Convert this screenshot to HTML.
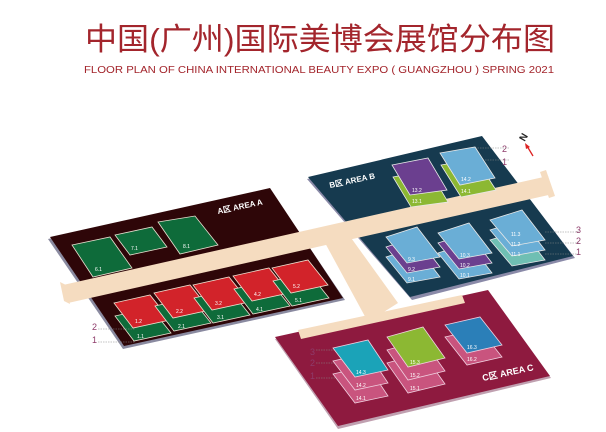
<!DOCTYPE html>
<html><head><meta charset="utf-8"><style>
body{margin:0;background:#fff;width:606px;height:432px;overflow:hidden}
svg{display:block}
.t{font-family:"Liberation Sans",sans-serif;fill:#fff;font-size:5px}
</style></head><body>
<svg width="606" height="432" viewBox="0 0 606 432" xmlns="http://www.w3.org/2000/svg">
<defs>
<g id="ra">
<polygon points="1,13 37,5 57,30 20,38" fill="#0e6b3a" stroke="#e8e0d0" stroke-width="0.8"/>
<polygon points="0,0 36,-8 56,17 19,25" fill="#d2232a" stroke="#f0e0d0" stroke-width="0.8"/>
</g>
<g id="bb" stroke="#e8e8e8" stroke-width="0.8">
<polygon points="0,20 31,10 54,40 21,46" fill="#6aaed6"/>
<polygon points="0,10 31,0 54,30 21,36" fill="#6b3f8f"/>
<polygon points="0,0 31,-10 54,20 21,26" fill="#6aaed6"/>
</g>
</defs>
<text x="85" y="50" font-family="'Liberation Sans','Noto Sans CJK SC',sans-serif" font-size="31" fill="#a3252c" textLength="470" lengthAdjust="spacingAndGlyphs">中国(广州)国际美博会展馆分布图</text>
<text x="84" y="73" font-family="'Liberation Sans',sans-serif" font-size="10" fill="#a3252c" textLength="470" lengthAdjust="spacingAndGlyphs">FLOOR PLAN OF CHINA INTERNATIONAL BEAUTY EXPO ( GUANGZHOU ) SPRING 2021</text>

<!-- Area A -->
<polygon points="48,239 270,189 345,300 123,349" fill="#8a8aa0"/>
<polygon points="50,237 270,188 343,298 124,346" fill="#2e0608"/>
<!-- Area B -->
<polygon points="307,179 482,138 575,258 412,300" fill="#8a8aa8"/>
<polygon points="308,177 482,136 573,256 410,297" fill="#163a4f"/>
<!-- Area C -->
<polygon points="275,339 488,292 551,378 338,429" fill="#c0a0b0"/>
<polygon points="275,337 488,290 550,376 338,426" fill="#8e1a3f"/>
<!-- corridors -->
<polygon points="63,285 548,176 553,194 68,303" fill="#f5dcc0"/>
<polygon points="60,282 66,285 70,304 64,301" fill="#f5dcc0"/>
<polygon points="540,172 546,170 555,196 549,198" fill="#f5dcc0"/>
<polygon points="324,241 349,235 398,303 368,322" fill="#f5dcc0"/>
<polygon points="298,330 462,295 465,303 301,339" fill="#f5dcc0"/>

<!-- A top row -->
<g fill="#0e6b3a" stroke="#e8e0d0" stroke-width="0.8">
<polygon points="72,245 110,237 132,268 93,277"/>
<polygon points="115,235 152,227 167,247 130,255"/>
<polygon points="158,222 195,216 218,245 180,254"/>
</g>
<text class="t" x="95" y="271">6.1</text><text class="t" x="131" y="250">7.1</text><text class="t" x="183" y="248">8.1</text>

<use href="#ra" transform="translate(114,303)"/>
<use href="#ra" transform="translate(154,293)"/>
<use href="#ra" transform="translate(193,285)"/>
<use href="#ra" transform="translate(233,276)"/>
<use href="#ra" transform="translate(272,268)"/>
<text class="t" x="135" y="323">1.2</text><text class="t" x="137" y="338">1.1</text>
<text class="t" x="176" y="313">2.2</text><text class="t" x="178" y="328">2.1</text>
<text class="t" x="215" y="305">3.2</text><text class="t" x="217" y="319">3.1</text>
<text class="t" x="254" y="296">4.2</text><text class="t" x="256" y="311">4.1</text>
<text class="t" x="293" y="288">5.2</text><text class="t" x="295" y="302">5.1</text>
<text x="218" y="214" font-family="Liberation Sans" font-size="8" font-weight="bold" fill="#fff" transform="rotate(-12 218 214)">A区 AREA A</text>

<!-- floor markers -->
<g font-family="Liberation Sans" font-size="9" fill="#8e3b6a">
<text x="92" y="330">2</text><text x="92" y="343">1</text>
<text x="502" y="152">2</text><text x="502" y="165">1</text>
<text x="576" y="233">3</text><text x="576" y="244">2</text><text x="576" y="255">1</text>
<text x="310" y="355">3</text><text x="310" y="366">2</text><text x="310" y="379">1</text>
</g>
<g stroke="#888" stroke-width="0.6" stroke-dasharray="1.5,1" fill="none">
<line x1="98" y1="329" x2="135" y2="329"/><line x1="98" y1="342" x2="135" y2="342"/>
<line x1="475" y1="148" x2="510" y2="148"/><line x1="475" y1="160" x2="510" y2="160"/>
<line x1="545" y1="232" x2="580" y2="232"/><line x1="545" y1="243" x2="580" y2="243"/><line x1="545" y1="254" x2="580" y2="254"/>
<line x1="316" y1="350" x2="335" y2="350"/><line x1="316" y1="363" x2="335" y2="363"/><line x1="316" y1="378" x2="335" y2="378"/>
</g>
<text x="520" y="140" font-family="Liberation Sans" font-size="10" font-weight="bold" fill="#222" transform="rotate(-60 524 137)">N</text>
<line x1="533" y1="156" x2="527" y2="146" stroke="#d22" stroke-width="1.3"/>
<polygon points="525,143 530,147 526,149" fill="#d22"/>

<!-- B area -->
<text x="330" y="188" font-family="Liberation Sans" font-size="8" font-weight="bold" fill="#fff" transform="rotate(-12 330 188)">B区 AREA B</text>
<g stroke="#e8e8e8" stroke-width="0.8">
<polygon points="393,177 429,170 448,202 411,207" fill="#8cb833"/>
<polygon points="392,165 428,158 447,190 410,195" fill="#6b3f8f"/>
<polygon points="441,165 476,159 496,190 461,197" fill="#8cb833"/>
<polygon points="440,153 475,147 495,178 460,185" fill="#6aaed6"/>
</g>
<text class="t" x="412" y="203">13.1</text><text class="t" x="412" y="192">13.2</text>
<text class="t" x="461" y="193">14.1</text><text class="t" x="461" y="181">14.2</text>
<use href="#bb" transform="translate(386,237)"/>
<use href="#bb" transform="translate(438,233)"/>
<g stroke="#e8e8e8" stroke-width="0.8">
<polygon points="490,240 522,230 545,260 512,266" fill="#6fbfb3"/>
<polygon points="490,230 522,220 545,250 512,256" fill="#6aaed6"/>
<polygon points="490,220 522,210 545,240 512,246" fill="#6aaed6"/>
</g>
<text class="t" x="408" y="261">9.3</text><text class="t" x="408" y="271">9.2</text><text class="t" x="408" y="281">9.1</text>
<text class="t" x="460" y="257">10.3</text><text class="t" x="460" y="267">10.2</text><text class="t" x="460" y="277">10.1</text>
<text class="t" x="511" y="236">11.3</text><text class="t" x="511" y="246">11.2</text><text class="t" x="511" y="256">11.1</text>

<!-- C area -->
<g stroke="#f0d0e0" stroke-width="0.8">
<polygon points="333,374 368,366 388,396 355,403" fill="#c9547e"/>
<polygon points="333,361 368,353 388,383 355,390" fill="#c9547e"/>
<polygon points="333,348 368,340 388,370 355,377" fill="#1ba3b8"/>
<polygon points="387,363 423,353 445,384 408,393" fill="#c9547e"/>
<polygon points="387,350 423,340 445,371 408,380" fill="#c9547e"/>
<polygon points="387,337 423,327 445,358 408,367" fill="#8cb833"/>
<polygon points="445,337 480,329 502,357 467,365" fill="#c9547e"/>
<polygon points="445,325 480,317 502,345 467,353" fill="#2b7fb8"/>
</g>
<text class="t" x="356" y="374">14.3</text><text class="t" x="356" y="387">14.2</text><text class="t" x="356" y="400">14.1</text>
<text class="t" x="410" y="364">15.3</text><text class="t" x="410" y="377">15.2</text><text class="t" x="410" y="390">15.1</text>
<text class="t" x="467" y="349">16.3</text><text class="t" x="467" y="361">16.2</text>
<text x="483" y="381" font-family="Liberation Sans" font-size="9" font-weight="bold" fill="#fff" transform="rotate(-12 483 381)">C区 AREA C</text>
</svg>
</body></html>
